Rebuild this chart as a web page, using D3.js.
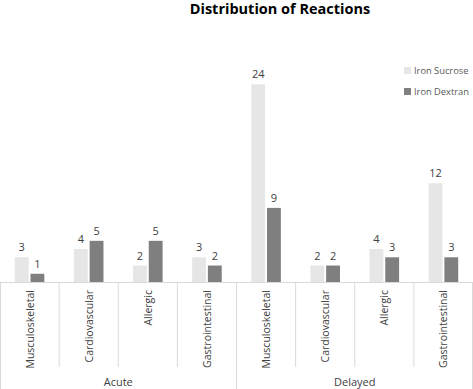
<!DOCTYPE html>
<html>
<head>
<meta charset="utf-8">
<script src="https://cdn.jsdelivr.net/npm/d3@7"></script>
<style>
  body { margin: 0; background: #fff; }
  svg { display: block; font-family: "Open Sans", "Liberation Sans", sans-serif; }
</style>
</head>
<body>
<div class="chart-container"></div>
<script>
// reactions per group
const groups = ["Acute", "Delayed"]
const types = ["Musculoskeletal", "Cardiovascular", "Allergic", "Gastrointestinal"]
const series = ["Iron Sucrose", "Iron Dextran"]
const ironSucrose = [3, 4, 2, 3, 24, 2, 4, 12]
const ironDextran = [1, 5, 5, 2, 9, 2, 3, 3]
const colors = ["#e7e6e6", "#7f7f7f"]

const width = 473, height = 389
const margin = {top: 35, left: 0, right: 0, baseline: 282}

// one row per category (group + type)
const rows = []
groups.forEach((g, gi) => types.forEach((t, ti) => {
    const i = gi * types.length + ti
    rows.push({key: g + "|" + t, group: g, type: t, values: [ironSucrose[i], ironDextran[i]]})
}))

const svg = d3.select(".chart-container").append("svg")
    .attr("width", width)
    .attr("height", height)

const x0 = d3.scaleBand()
    .domain(rows.map(d => d.key))
    .range([0, width])

const x1 = d3.scaleBand()
    .domain(series)
    .range([x0.bandwidth() * 0.25, x0.bandwidth() * 0.75])
    .paddingInner(0.12)

const y = d3.scaleLinear()
    .domain([0, 30])
    .range([margin.baseline, margin.top])

// title
svg.append("text")
    .attr("x", 280)
    .attr("y", 14)
    .attr("text-anchor", "middle")
    .attr("font-size", 14.5)
    .attr("font-weight", "bold")
    .attr("fill", "#000")
    .text("Distribution of Reactions")

// bars
const cat = svg.append("g").selectAll("g")
    .data(rows)
    .join("g")
    .attr("transform", d => `translate(${x0(d.key)},0)`)

cat.selectAll("rect")
    .data(d => d.values.map((v, i) => ({s: series[i], v, i})))
    .join("rect")
    .attr("x", d => x1(d.s))
    .attr("width", x1.bandwidth())
    .attr("y", d => y(d.v))
    .attr("height", d => y(0) - y(d.v))
    .attr("fill", d => colors[d.i])

cat.selectAll("text")
    .data(d => d.values.map((v, i) => ({s: series[i], v, i})))
    .join("text")
    .attr("x", d => x1(d.s) + x1.bandwidth() / 2)
    .attr("y", d => y(d.v) - 6)
    .attr("text-anchor", "middle")
    .attr("font-size", 11)
    .attr("fill", "#404040")
    .text(d => d.v)

// axis line and category separators
const axisColor = "#d9d9d9"
svg.append("line")
    .attr("x1", 0).attr("x2", width)
    .attr("y1", y(0) + 0.5).attr("y2", y(0) + 0.5)
    .attr("stroke", axisColor)

const bounds = rows.map(d => x0(d.key)).concat([width])
svg.append("g").selectAll("line")
    .data(bounds)
    .join("line")
    .attr("x1", d => Math.min(Math.max(d, 0.5), width - 0.5))
    .attr("x2", d => Math.min(Math.max(d, 0.5), width - 0.5))
    .attr("y1", y(0))
    .attr("y2", (d, i) => i % types.length === 0 ? height : 367)
    .attr("stroke", axisColor)

// rotated category labels
svg.append("g").selectAll("text")
    .data(rows)
    .join("text")
    .attr("transform", d => `translate(${x0(d.key) + x0.bandwidth() / 2 + 4},290) rotate(-90)`)
    .attr("text-anchor", "end")
    .attr("font-size", 10.5)
    .attr("fill", "#404040")
    .text(d => d.type)

// group labels
svg.append("g").selectAll("text")
    .data(groups)
    .join("text")
    .attr("x", g => x0(g + "|" + types[0]) + x0.bandwidth() * types.length / 2)
    .attr("y", 386)
    .attr("text-anchor", "middle")
    .attr("font-size", 11)
    .attr("fill", "#404040")
    .text(g => g)

// legend
const legend = svg.append("g").selectAll("g")
    .data(series)
    .join("g")
    .attr("transform", (d, i) => `translate(404,${67 + i * 21})`)

legend.append("rect")
    .attr("width", 7).attr("height", 7)
    .attr("fill", (d, i) => colors[i])

legend.append("text")
    .attr("x", 10)
    .attr("y", 7)
    .attr("font-size", 9.3)
    .attr("fill", "#595959")
    .text(d => d)
</script>
</body>
</html>
